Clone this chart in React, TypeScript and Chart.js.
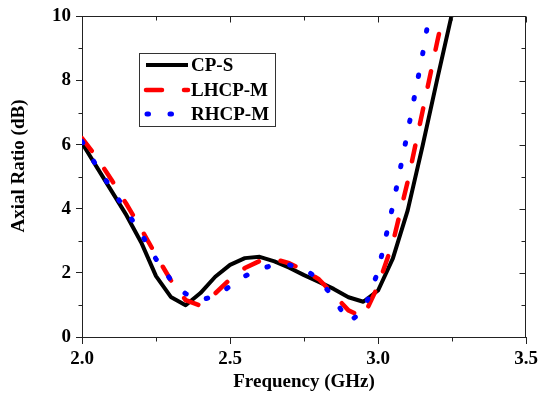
import React, { useEffect, useRef } from 'react';
import { Chart, registerables } from 'chart.js';

Chart.register(...registerables);

// ---------- data ----------
const frequencies = [2.0, 2.05, 2.1, 2.15, 2.2, 2.25, 2.3, 2.35, 2.4, 2.45, 2.5, 2.55, 2.6, 2.65, 2.7, 2.75, 2.8, 2.85, 2.9, 2.95, 3.0, 3.05, 3.1, 3.15, 3.2, 3.25];
const cpS = [6.05, 5.3, 4.55, 3.8, 2.95, 1.9, 1.25, 0.99, 1.37, 1.88, 2.25, 2.46, 2.5, 2.36, 2.16, 1.93, 1.72, 1.5, 1.24, 1.1, 1.45, 2.45, 3.95, 5.95, 8.05, 10.1];
const lhcpM = [6.2, 5.6, 4.9, 4.15, 3.37, 2.55, 1.77, 1.15, 0.98, 1.36, 1.8, 2.15, 2.37, 2.43, 2.3, 2.08, 1.8, 1.33, 0.83, 0.62, 1.6, 2.95, 4.85, 7.03, 9.22, 11.3];
const rhcpM: (number | null)[] = [6.1, 5.32, 4.62, 3.92, 3.22, 2.43, 1.78, 1.35, 1.15, 1.28, 1.58, 1.9, 2.12, 2.25, 2.25, 2.13, 1.8, 1.22, 0.47, 0.8, 2.05, 4.1, 6.4, 8.8, 11.5, null];

const seriesLabels = ['CP-S', 'LHCP-M', 'RHCP-M'];

const xTicks = [2.0, 2.5, 3.0, 3.5];
const xTickLabels = ['2.0', '2.5', '3.0', '3.5'];
const xMinorTicks = [2.25, 2.75, 3.25];
const yTicks = [0, 2, 4, 6, 8, 10];
const yTickLabels = ['0', '2', '4', '6', '8', '10'];
const yMinorTicks = [1, 3, 5, 7, 9];

const xTitle = 'Frequency (GHz)';
const yTitle = 'Axial Ratio (dB)';

// ---------- styles ----------
const FAMILY = '"Liberation Serif", "Times New Roman", serif';
const FONT_SIZE = 19;
const axisColor = '#222';
const styles = [
  { color: '#000000', width: 4, dash: [] as number[], cap: 'butt' as CanvasLineCap },
  { color: '#ff0000', width: 4.5, dash: [16, 22], cap: 'round' as CanvasLineCap },
  { color: '#0000ff', width: 5, dash: [1.5, 21.5], cap: 'round' as CanvasLineCap },
];

const toPoints = (ys: (number | null)[]) =>
  frequencies.map((f, i) => ({ x: f, y: ys[i] })).filter((p) => p.y !== null);

const decor = {
  id: 'decor',
  afterDraw(chart: any) {
    const { ctx, chartArea } = chart;
    const { left, right, top, bottom } = chartArea;
    const xs = chart.scales.x;
    const ys = chart.scales.y;
    ctx.save();
    ctx.strokeStyle = axisColor;
    ctx.lineWidth = 1;
    ctx.lineCap = 'butt';
    ctx.setLineDash([]);
    const T = Math.round(top) + 0.5;
    const R = Math.round(right) - 0.5;
    const B = Math.round(bottom) + 0.5;
    const L = Math.round(left) + 0.5;
    ctx.beginPath();
    ctx.moveTo(L - 0.5, T);
    ctx.lineTo(R + 0.5, T);
    ctx.moveTo(R, T);
    ctx.lineTo(R, B);
    // top major ticks (inward)
    xTicks.forEach((v) => {
      const px = Math.round(xs.getPixelForValue(v)) + 0.5;
      ctx.moveTo(px, T);
      ctx.lineTo(px, T + 6);
    });
    // minor x ticks
    xMinorTicks.forEach((v) => {
      const px = Math.round(xs.getPixelForValue(v)) + 0.5;
      ctx.moveTo(px, T);
      ctx.lineTo(px, T + 4);
      ctx.moveTo(px, B);
      ctx.lineTo(px, B + 4);
    });
    // right major ticks (inward)
    yTicks.forEach((v) => {
      const py = Math.round(ys.getPixelForValue(v)) + 0.5;
      ctx.moveTo(R, py);
      ctx.lineTo(R - 6, py);
    });
    // minor y ticks
    yMinorTicks.forEach((v) => {
      const py = Math.round(ys.getPixelForValue(v)) + 0.5;
      ctx.moveTo(R, py);
      ctx.lineTo(R - 4, py);
      ctx.moveTo(L, py);
      ctx.lineTo(L - 4, py);
    });
    ctx.stroke();

    // y title
    ctx.fillStyle = '#000';
    ctx.font = `bold ${FONT_SIZE}px ${FAMILY}`;
    ctx.save();
    ctx.translate(19, 166);
    ctx.rotate(-Math.PI / 2);
    ctx.textAlign = 'center';
    ctx.textBaseline = 'middle';
    ctx.fillText(yTitle, 0, 0);
    ctx.restore();

    // legend
    const boxL = 139.5, boxT = 53.5, boxW = 136, boxH = 73;
    ctx.fillStyle = '#fff';
    ctx.fillRect(boxL, boxT, boxW, boxH);
    ctx.strokeStyle = '#333';
    ctx.lineWidth = 1;
    ctx.strokeRect(boxL, boxT, boxW, boxH);
    const rowsY = [65, 90, 114];
    seriesLabels.forEach((lab, i) => {
      const st = styles[i];
      ctx.beginPath();
      ctx.strokeStyle = st.color;
      ctx.lineWidth = st.width;
      ctx.lineCap = st.cap;
      ctx.setLineDash(st.dash);
      ctx.moveTo(i === 2 ? 147 : 146, rowsY[i]);
      ctx.lineTo(188, rowsY[i]);
      ctx.stroke();
      ctx.setLineDash([]);
      ctx.fillStyle = '#000';
      ctx.textAlign = 'left';
      ctx.textBaseline = 'middle';
      ctx.fillText(lab, 191, rowsY[i] + 1.5);
    });
    ctx.restore();
  },
};

export default function App() {
  const ref = useRef<HTMLCanvasElement>(null);
  useEffect(() => {
    const canvas = ref.current;
    if (!canvas) return;
    const font = { family: FAMILY, size: FONT_SIZE, weight: 'bold' as const };
    const seriesData = [cpS, lhcpM, rhcpM];
    const chart = new Chart(canvas, {
      type: 'line',
      data: {
        datasets: seriesData.map((d, i) => ({
          label: seriesLabels[i],
          data: toPoints(d) as any,
          borderColor: styles[i].color,
          borderWidth: styles[i].width,
          borderDash: styles[i].dash,
          borderCapStyle: styles[i].cap,
          borderJoinStyle: 'round' as const,
          pointRadius: 0,
          pointHoverRadius: 0,
          tension: 0,
          fill: false,
          clip: 0,
          order: 3 - i,
        })),
      },
      options: {
        animation: false,
        responsive: false,
        maintainAspectRatio: false,
        events: [],
        layout: { padding: { top: 12, right: 14, left: 0, bottom: 0 } },
        plugins: {
          legend: { display: false },
          tooltip: { enabled: false },
          title: { display: false },
        },
        scales: {
          x: {
            type: 'linear',
            min: 2,
            max: 3.5,
            afterBuildTicks: (s: any) => {
              s.ticks = xTicks.map((v) => ({ value: v }));
            },
            afterFit: (s: any) => {
              s.height = 66;
            },
            ticks: {
              autoSkip: false,
              maxRotation: 0,
              color: '#000',
              font,
              padding: 4,
              callback: (_v: any, idx: number) => xTickLabels[idx],
            },
            grid: { drawOnChartArea: false, drawTicks: true, tickLength: 7, color: axisColor, lineWidth: 1 },
            border: { display: true, color: axisColor, width: 1 },
            title: { display: true, text: xTitle, color: '#000', font, padding: { top: 0, bottom: 10 } },
          },
          y: {
            type: 'linear',
            min: 0,
            max: 10,
            afterBuildTicks: (s: any) => {
              s.ticks = yTicks.map((v) => ({ value: v }));
            },
            afterFit: (s: any) => {
              s.width = 82;
            },
            ticks: {
              autoSkip: false,
              color: '#000',
              font,
              padding: 5,
              callback: (_v: any, idx: number) => yTickLabels[idx],
            },
            grid: { drawOnChartArea: false, drawTicks: true, tickLength: 6, color: axisColor, lineWidth: 1 },
            border: { display: true, color: axisColor, width: 1 },
            title: { display: false },
          },
        },
      },
      plugins: [decor],
    });
    return () => chart.destroy();
  }, []);
  return (
    <div style={{ position: 'fixed', left: 0, top: 0, width: 542, height: 403, background: '#fff' }}>
      <canvas ref={ref} width={542} height={403} style={{ width: 542, height: 403, display: 'block' }} />
    </div>
  );
}
